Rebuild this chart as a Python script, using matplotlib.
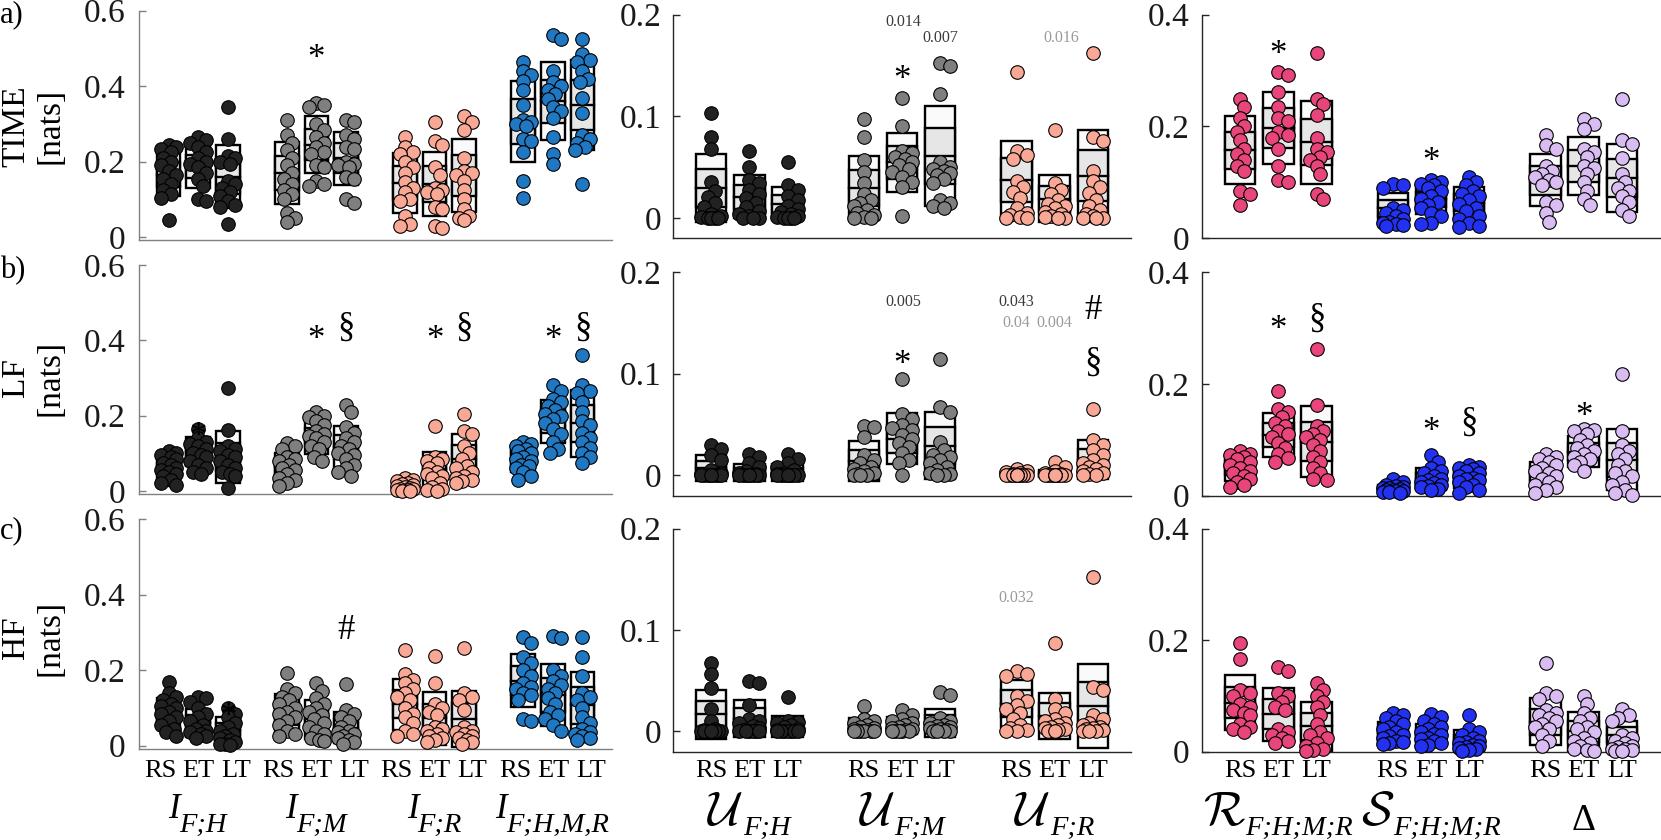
import numpy as np
import matplotlib
matplotlib.use("Agg")
import matplotlib.pyplot as plt
from matplotlib.patches import Rectangle

plt.rcParams['font.family'] = ['Liberation Serif', 'DejaVu Serif']

W, H = 1661, 840

conditions = ['RS', 'ET', 'LT']
row_names = ['TIME\n[nats]', 'LF\n[nats]', 'HF\n[nats]']
row_tags = ['a)', 'b)', 'c)']

left_main = ['I', 'I', 'I', 'I']
left_sub = ['F;H', 'F;M', 'F;R', 'F;H,M,R']
mid_main = [r'$\mathcal{U}$', r'$\mathcal{U}$', r'$\mathcal{U}$']
mid_sub = ['F;H', 'F;M', 'F;R']
right_main = [r'$\mathcal{R}$', r'$\mathcal{S}$', 'Δ']
right_sub = ['F;H;M;R', 'F;H;M;R', '']

left_colors = ['#222222', '#7f7f7f', '#f9a895', '#1f78c1']
mid_colors = ['#222222', '#7f7f7f', '#f9a895']
right_colors = ['#e8457a', '#2232f0', '#d9bdf2']

N_SUBJ = 15
T95 = 2.145

# ---------------- TIME ----------------
time_left_pts = [
    [[0.244, 0.24, 0.235, 0.225, 0.21, 0.2, 0.19, 0.175, 0.165, 0.155, 0.14, 0.125, 0.115, 0.105, 0.046],
     [0.265, 0.258, 0.25, 0.24, 0.225, 0.21, 0.2, 0.195, 0.185, 0.17, 0.155, 0.135, 0.1, 0.095],
     [0.345, 0.26, 0.215, 0.21, 0.2, 0.195, 0.15, 0.14, 0.13, 0.12, 0.11, 0.095, 0.085, 0.08, 0.035]],
    [[0.31, 0.27, 0.25, 0.23, 0.21, 0.19, 0.17, 0.155, 0.14, 0.125, 0.115, 0.1, 0.065, 0.05, 0.04],
     [0.355, 0.35, 0.345, 0.3, 0.285, 0.265, 0.25, 0.24, 0.225, 0.22, 0.19, 0.185, 0.15, 0.14, 0.135],
     [0.31, 0.305, 0.27, 0.26, 0.24, 0.235, 0.2, 0.195, 0.19, 0.185, 0.16, 0.155, 0.1, 0.09]],
    [[0.265, 0.24, 0.225, 0.22, 0.2, 0.185, 0.17, 0.145, 0.13, 0.12, 0.1, 0.095, 0.055, 0.035, 0.03],
     [0.305, 0.255, 0.245, 0.185, 0.165, 0.13, 0.125, 0.12, 0.115, 0.08, 0.075, 0.03, 0.025],
     [0.32, 0.305, 0.285, 0.21, 0.175, 0.17, 0.165, 0.15, 0.125, 0.1, 0.075, 0.055, 0.05, 0.045]],
    [[0.465, 0.44, 0.43, 0.415, 0.39, 0.35, 0.31, 0.305, 0.3, 0.295, 0.26, 0.255, 0.225, 0.15, 0.105],
     [0.535, 0.525, 0.44, 0.41, 0.4, 0.39, 0.38, 0.365, 0.345, 0.335, 0.315, 0.265, 0.22, 0.195],
     [0.525, 0.485, 0.47, 0.465, 0.44, 0.42, 0.41, 0.37, 0.33, 0.27, 0.26, 0.25, 0.24, 0.23, 0.14]],
]
time_mid_pts = [
    [[0.103, 0.08, 0.068, 0.035, 0.027, 0.021, 0.015, 0.011, 0.004, 0.002, 0.001, 0, 0, 0, 0],
     [0.066, 0.05, 0.037, 0.034, 0.028, 0.024, 0.02, 0.015, 0.011, 0.007, 0.004, 0.002, 0, 0, 0],
     [0.055, 0.032, 0.028, 0.022, 0.018, 0.012, 0.009, 0.006, 0.004, 0.002, 0.001, 0, 0, 0, 0]],
    [[0.097, 0.08, 0.057, 0.045, 0.034, 0.024, 0.018, 0.015, 0.012, 0.008, 0.005, 0.003, 0.001, 0, 0],
     [0.118, 0.09, 0.066, 0.064, 0.06, 0.058, 0.055, 0.052, 0.048, 0.045, 0.04, 0.035, 0.03, 0.002],
     [0.152, 0.15, 0.122, 0.055, 0.05, 0.048, 0.046, 0.044, 0.042, 0.038, 0.034, 0.018, 0.015, 0.012, 0.01]],
    [[0.144, 0.066, 0.062, 0.058, 0.036, 0.03, 0.026, 0.02, 0.01, 0.005, 0.003, 0.001, 0, 0],
     [0.087, 0.034, 0.028, 0.024, 0.018, 0.014, 0.012, 0.01, 0.006, 0.004, 0.002, 0.001, 0, 0],
     [0.162, 0.08, 0.076, 0.046, 0.036, 0.03, 0.025, 0.018, 0.012, 0.008, 0.004, 0.002, 0, 0, 0]],
]
time_right_pts = [
    [[0.25, 0.235, 0.215, 0.2, 0.19, 0.175, 0.16, 0.15, 0.14, 0.13, 0.12, 0.085, 0.08, 0.06],
     [0.298, 0.292, 0.262, 0.235, 0.215, 0.21, 0.19, 0.185, 0.18, 0.16, 0.13, 0.105, 0.1],
     [0.332, 0.25, 0.24, 0.22, 0.18, 0.16, 0.155, 0.145, 0.14, 0.13, 0.115, 0.08, 0.07]],
    [[0.098, 0.095, 0.09, 0.055, 0.05, 0.045, 0.04, 0.035, 0.03, 0.028, 0.025, 0.024, 0.022],
     [0.105, 0.1, 0.098, 0.095, 0.09, 0.085, 0.075, 0.07, 0.065, 0.06, 0.055, 0.045, 0.04, 0.028, 0.025],
     [0.11, 0.1, 0.095, 0.085, 0.08, 0.075, 0.068, 0.062, 0.055, 0.048, 0.04, 0.035, 0.028, 0.022, 0.02]],
    [[0.185, 0.167, 0.16, 0.13, 0.12, 0.115, 0.11, 0.105, 0.1, 0.095, 0.065, 0.06, 0.045, 0.03],
     [0.214, 0.205, 0.195, 0.16, 0.155, 0.145, 0.13, 0.125, 0.115, 0.1, 0.085, 0.07, 0.06],
     [0.25, 0.175, 0.168, 0.143, 0.115, 0.1, 0.09, 0.085, 0.075, 0.065, 0.05, 0.04]],
]
# SD boxes (low, high) per group and condition
time_left_box = [[(0.108, 0.224), (0.131, 0.244), (0.077, 0.244)],
                 [(0.087, 0.252), (0.17, 0.32), (0.139, 0.28)],
                 [(0.064, 0.224), (0.055, 0.227), (0.066, 0.26)],
                 [(0.198, 0.414), (0.258, 0.463), (0.231, 0.469)]]
time_mid_box = [[(-0.004, 0.063), (-0.0005, 0.042), (-0.002, 0.030)],
                [(-0.002, 0.061), (0.026, 0.0835), (0.012, 0.110)],
                [(-0.002, 0.076), (-0.004, 0.042), (-0.004, 0.087)]]
time_right_box = [[(0.097, 0.218), (0.133, 0.262), (0.097, 0.246)],
                  [(0.026, 0.081), (0.044, 0.095), (0.036, 0.091)],
                  [(0.057, 0.151), (0.078, 0.181), (0.047, 0.169)]]

# ---------------- LF ----------------
lf_left_pts = [
    [[0.105, 0.1, 0.095, 0.09, 0.085, 0.075, 0.07, 0.06, 0.055, 0.05, 0.045, 0.04, 0.03, 0.02, 0.015],
     [0.165, 0.14, 0.13, 0.125, 0.12, 0.11, 0.1, 0.095, 0.09, 0.08, 0.07, 0.06, 0.05, 0.045],
     [0.272, 0.163, 0.12, 0.11, 0.105, 0.095, 0.09, 0.08, 0.07, 0.06, 0.05, 0.045, 0.04, 0.008]],
    [[0.128, 0.12, 0.11, 0.09, 0.085, 0.08, 0.07, 0.06, 0.055, 0.045, 0.035, 0.03, 0.02, 0.012],
     [0.21, 0.2, 0.195, 0.185, 0.175, 0.16, 0.15, 0.145, 0.14, 0.13, 0.12, 0.11, 0.09, 0.08],
     [0.228, 0.21, 0.17, 0.155, 0.14, 0.13, 0.12, 0.11, 0.1, 0.095, 0.085, 0.07, 0.06, 0.05, 0.04]],
    [[0.035, 0.03, 0.025, 0.02, 0.018, 0.015, 0.012, 0.01, 0.008, 0.006, 0.005, 0.003, 0.002, 0.001, 0],
     [0.173, 0.09, 0.085, 0.08, 0.075, 0.06, 0.05, 0.045, 0.04, 0.035, 0.02, 0.01, 0.005, 0.002, 0],
     [0.205, 0.16, 0.15, 0.12, 0.1, 0.085, 0.065, 0.06, 0.05, 0.04, 0.035, 0.03, 0.025, 0.02]],
    [[0.13, 0.125, 0.12, 0.11, 0.105, 0.1, 0.09, 0.085, 0.08, 0.07, 0.065, 0.06, 0.05, 0.04, 0.03],
     [0.28, 0.265, 0.245, 0.235, 0.225, 0.215, 0.205, 0.2, 0.19, 0.18, 0.165, 0.15, 0.13, 0.11, 0.1],
     [0.36, 0.28, 0.265, 0.26, 0.235, 0.21, 0.185, 0.175, 0.155, 0.14, 0.13, 0.115, 0.1, 0.09, 0.075]],
]
lf_mid_pts = [
    [[0.03, 0.026, 0.02, 0.015, 0.005, 0.002, 0.001, 0, 0, 0, 0, 0, 0, 0, 0],
     [0.021, 0.018, 0.012, 0.008, 0.004, 0.002, 0.001, 0, 0, 0, 0, 0, 0, 0, 0],
     [0.021, 0.016, 0.012, 0.008, 0.005, 0.002, 0.001, 0, 0, 0, 0, 0, 0, 0, 0]],
    [[0.049, 0.048, 0.038, 0.02, 0.015, 0.012, 0.008, 0.006, 0.004, 0.002, 0.001, 0, 0, 0],
     [0.095, 0.06, 0.055, 0.05, 0.047, 0.045, 0.04, 0.036, 0.032, 0.028, 0.022, 0.015, 0.012, 0],
     [0.114, 0.067, 0.062, 0.033, 0.025, 0.02, 0.018, 0.015, 0.012, 0.008, 0.005, 0.002, 0.001, 0, 0]],
    [[0.006, 0.004, 0.003, 0.002, 0.001, 0, 0, 0, 0, 0, 0, 0, 0, 0, 0],
     [0.013, 0.008, 0.004, 0.002, 0.001, 0, 0, 0, 0, 0, 0, 0, 0, 0, 0],
     [0.065, 0.035, 0.03, 0.025, 0.02, 0.015, 0.012, 0.01, 0.008, 0.006, 0.004, 0.002, 0.001, 0, 0]],
]
lf_right_pts = [
    [[0.08, 0.075, 0.072, 0.07, 0.065, 0.06, 0.055, 0.05, 0.045, 0.04, 0.035, 0.03, 0.025, 0.02, 0.015],
     [0.188, 0.155, 0.15, 0.14, 0.13, 0.125, 0.115, 0.11, 0.105, 0.095, 0.085, 0.075, 0.068, 0.06],
     [0.262, 0.163, 0.125, 0.115, 0.11, 0.105, 0.1, 0.09, 0.08, 0.07, 0.06, 0.05, 0.04, 0.03, 0.028]],
    [[0.03, 0.025, 0.02, 0.018, 0.015, 0.014, 0.013, 0.012, 0.011, 0.01, 0.009, 0.008, 0.007, 0.006, 0.005],
     [0.072, 0.06, 0.05, 0.045, 0.04, 0.035, 0.03, 0.028, 0.025, 0.022, 0.02, 0.018, 0.015, 0.012, 0.01],
     [0.055, 0.052, 0.05, 0.048, 0.045, 0.04, 0.035, 0.032, 0.03, 0.028, 0.025, 0.02, 0.015, 0.01, 0.005]],
    [[0.075, 0.07, 0.065, 0.06, 0.055, 0.05, 0.045, 0.04, 0.035, 0.03, 0.025, 0.02, 0.015, 0.01, 0.005],
     [0.12, 0.118, 0.115, 0.11, 0.1, 0.09, 0.085, 0.08, 0.075, 0.07, 0.065, 0.06, 0.055, 0.045],
     [0.218, 0.115, 0.09, 0.08, 0.075, 0.065, 0.055, 0.045, 0.04, 0.035, 0.025, 0.02, 0.01, 0.005, 0.002]],
]
lf_left_box = [[(0.034, 0.084), (0.065, 0.144), (0.022, 0.158)],
               [(0.027, 0.102), (0.098, 0.186), (0.06, 0.173)],
               [(0.004, 0.022), (0.012, 0.104), (0.019, 0.15)],
               [(0.05, 0.122), (0.128, 0.242), (0.091, 0.268)]]
lf_mid_box = [[(-0.006, 0.020), (-0.006, 0.0115), (-0.006, 0.0115)],
              [(-0.006, 0.034), (0.011, 0.061), (-0.004, 0.062)],
              [(-0.001, 0.003), (-0.002, 0.005), (-0.004, 0.035)]]
lf_right_box = [[(0.027, 0.073), (0.070, 0.148), (0.033, 0.160)],
                [(0.010, 0.019), (0.011, 0.049), (0.014, 0.049)],
                [(0.017, 0.061), (0.051, 0.107), (0.010, 0.119)]]

# ---------------- HF ----------------
hf_left_pts = [
    [[0.168, 0.14, 0.13, 0.12, 0.11, 0.105, 0.1, 0.09, 0.085, 0.075, 0.065, 0.055, 0.045, 0.035, 0.025],
     [0.13, 0.125, 0.115, 0.1, 0.085, 0.075, 0.065, 0.055, 0.045, 0.04, 0.035, 0.03, 0.025, 0.02],
     [0.1, 0.085, 0.075, 0.06, 0.05, 0.04, 0.03, 0.025, 0.02, 0.015, 0.01, 0.005, 0.003, 0.001]],
    [[0.192, 0.15, 0.14, 0.13, 0.12, 0.11, 0.1, 0.09, 0.085, 0.075, 0.065, 0.055, 0.04, 0.03, 0.025],
     [0.165, 0.145, 0.125, 0.11, 0.1, 0.09, 0.08, 0.07, 0.06, 0.05, 0.04, 0.03, 0.02, 0.015, 0.012],
     [0.163, 0.095, 0.085, 0.075, 0.065, 0.05, 0.04, 0.035, 0.03, 0.025, 0.02, 0.015, 0.01, 0.005]],
    [[0.253, 0.19, 0.175, 0.165, 0.15, 0.14, 0.13, 0.12, 0.1, 0.085, 0.075, 0.06, 0.04, 0.03, 0.025],
     [0.238, 0.165, 0.11, 0.1, 0.09, 0.08, 0.05, 0.045, 0.04, 0.03, 0.025, 0.02, 0.015, 0.01],
     [0.258, 0.14, 0.13, 0.12, 0.095, 0.05, 0.04, 0.035, 0.03, 0.025, 0.02, 0.015, 0.01, 0.005]],
    [[0.288, 0.272, 0.235, 0.22, 0.2, 0.185, 0.165, 0.155, 0.15, 0.14, 0.135, 0.12, 0.07, 0.065],
     [0.29, 0.285, 0.2, 0.185, 0.17, 0.16, 0.15, 0.14, 0.125, 0.11, 0.09, 0.08, 0.07, 0.055, 0.04],
     [0.287, 0.236, 0.185, 0.14, 0.13, 0.12, 0.1, 0.075, 0.06, 0.045, 0.035, 0.03, 0.025, 0.02, 0.015]],
]
hf_mid_pts = [
    [[0.068, 0.057, 0.043, 0.022, 0.01, 0.002, 0.001, 0, 0, 0, 0, 0, 0, 0, 0],
     [0.05, 0.048, 0.026, 0.012, 0.01, 0.008, 0.005, 0.003, 0.001, 0, 0, 0, 0, 0, 0],
     [0.034, 0.01, 0.009, 0.008, 0.006, 0.004, 0.002, 0.001, 0, 0, 0, 0, 0, 0, 0]],
    [[0.025, 0.012, 0.01, 0.008, 0.006, 0.004, 0.003, 0.002, 0.001, 0, 0, 0, 0, 0, 0],
     [0.021, 0.016, 0.012, 0.01, 0.008, 0.006, 0.004, 0.003, 0.002, 0.001, 0, 0, 0, 0, 0],
     [0.039, 0.036, 0.013, 0.01, 0.008, 0.006, 0.005, 0.004, 0.003, 0.002, 0.001, 0, 0, 0, 0]],
    [[0.06, 0.057, 0.055, 0.035, 0.03, 0.026, 0.022, 0.018, 0.012, 0.006, 0.003, 0.001, 0, 0],
     [0.087, 0.032, 0.022, 0.018, 0.012, 0.01, 0.008, 0.006, 0.004, 0.003, 0.002, 0.001, 0, 0],
     [0.152, 0.044, 0.041, 0.016, 0.012, 0.008, 0.006, 0.004, 0.003, 0.002, 0.001, 0, 0, 0]],
]
hf_right_pts = [
    [[0.195, 0.167, 0.11, 0.105, 0.1, 0.085, 0.08, 0.075, 0.07, 0.065, 0.05, 0.045, 0.04, 0.035],
     [0.152, 0.145, 0.105, 0.1, 0.09, 0.08, 0.075, 0.04, 0.035, 0.03, 0.025, 0.02, 0.015],
     [0.123, 0.11, 0.1, 0.09, 0.08, 0.065, 0.05, 0.035, 0.03, 0.025, 0.015, 0.01, 0.005, 0.003, 0.002]],
    [[0.07, 0.065, 0.06, 0.055, 0.05, 0.045, 0.04, 0.035, 0.03, 0.028, 0.025, 0.02, 0.018, 0.016, 0.014],
     [0.068, 0.063, 0.055, 0.05, 0.045, 0.04, 0.035, 0.032, 0.03, 0.025, 0.022, 0.02, 0.015, 0.012, 0.01],
     [0.066, 0.04, 0.035, 0.03, 0.025, 0.02, 0.018, 0.015, 0.012, 0.01, 0.008, 0.006, 0.004, 0.003, 0.002]],
    [[0.16, 0.105, 0.1, 0.095, 0.075, 0.07, 0.065, 0.06, 0.055, 0.05, 0.045, 0.04, 0.03, 0.02, 0.01],
     [0.1, 0.085, 0.07, 0.06, 0.055, 0.045, 0.04, 0.035, 0.025, 0.02, 0.015, 0.01, 0.005, 0.003, 0.002],
     [0.077, 0.065, 0.06, 0.055, 0.03, 0.025, 0.02, 0.015, 0.01, 0.008, 0.005, 0.004, 0.003, 0.002, 0.001]],
]
hf_left_box = [[(0.048, 0.127), (0.022, 0.097), (0.0035, 0.077)],
               [(0.03, 0.136), (0.018, 0.121), (0.008, 0.088)],
               [(0.042, 0.176), (0.002, 0.143), (-0.003, 0.145)],
               [(0.103, 0.242), (0.052, 0.216), (0.019, 0.194)]]
hf_mid_box = [[(-0.0076, 0.041), (-0.0056, 0.031), (-0.0056, 0.0154)],
              [(-0.0023, 0.013), (-0.0023, 0.014), (-0.0056, 0.022)],
              [(0.004, 0.051), (-0.0076, 0.038), (-0.016, 0.067)]]
hf_right_box = [[(0.039, 0.1375), (0.020, 0.115), (0.002, 0.089)],
                [(0.012, 0.054), (0.010, 0.050), (0.002, 0.039)],
                [(0.012, 0.096), (0.002, 0.071), (0.006, 0.055)]]

# significance marks: (row, panel, x slot, y, symbol)
sig_marks = [
    (0, 0, 5, 0.50, '*'), (0, 1, 5, 0.146, '*'), (0, 2, 1, 0.346, '*'), (0, 2, 5, 0.155, '*'),
    (1, 0, 1, 0.171, '*'), (1, 0, 5, 0.427, '*'), (1, 0, 6, 0.44, '§'), (1, 0, 9, 0.427, '*'),
    (1, 0, 10, 0.44, '§'), (1, 0, 13, 0.427, '*'), (1, 0, 14, 0.44, '§'),
    (1, 1, 5, 0.118, '*'), (1, 1, 10, 0.165, '#'), (1, 1, 10, 0.113, '§'),
    (1, 2, 1, 0.314, '*'), (1, 2, 2, 0.32, '§'), (1, 2, 5, 0.132, '*'), (1, 2, 6, 0.135, '§'),
    (1, 2, 9, 0.159, '*'),
    (2, 0, 2, 0.103, '*'), (2, 0, 6, 0.315, '#'),
]
# p-values: (row, panel, x slot, y, text, dark?)
p_values = [
    (0, 1, 5.04, 0.194, '0.014', True), (0, 1, 6.0, 0.178, '0.007', True), (0, 1, 9.18, 0.178, '0.016', False),
    (1, 1, 5.04, 0.172, '0.005', True), (1, 1, 8.0, 0.172, '0.043', True),
    (1, 1, 8.0, 0.151, '0.04', False), (1, 1, 9.0, 0.151, '0.004', False),
    (2, 1, 8.0, 0.133, '0.032', False),
]

all_pts = [[time_left_pts, time_mid_pts, time_right_pts],
           [lf_left_pts, lf_mid_pts, lf_right_pts],
           [hf_left_pts, hf_mid_pts, hf_right_pts]]
all_box = [[time_left_box, time_mid_box, time_right_box],
           [lf_left_box, lf_mid_box, lf_right_box],
           [hf_left_box, hf_mid_box, hf_right_box]]
panel_colors = [left_colors, mid_colors, right_colors]
panel_main = [left_main, mid_main, right_main]
panel_sub = [left_sub, mid_sub, right_sub]

# layout in pixels
panel_x = [(139, 612), (673, 1131), (1202, 1660)]
row_y = [[(10.7, 239.5), (14.7, 238.3), (14.7, 238.3)],
         [(265, 494.3), (272, 495.7), (272, 495.7)],
         [(519.3, 749), (528.7, 751.7), (528.7, 751.7)]]
ylims = [[(-0.006, 0.6), (-0.02, 0.2), (0, 0.4)],
         [(-0.009, 0.6), (-0.02, 0.2), (0, 0.4)],
         [(-0.009, 0.6), (-0.02, 0.2), (0, 0.4)]]
yticks = [[0, 0.2, 0.4, 0.6], [0, 0.1, 0.2], [0, 0.2, 0.4]]
ytick_labels = [['0', '0.2', '0.4', '0.6'], ['0', '0.1', '0.2'], ['0', '0.2', '0.4']]
spine_colors = ['#808080', '#262626', '#262626']
tick_pad = [9.5, 8.5, 9]
ylabel_y = [126, 378, 638]
tag_y = [15, 271, 531]


def swarm_offsets(vals, px_per_x, px_per_y, half_px, diam=13.0):
    vals = np.asarray(vals, dtype=float)
    steps = np.array([0, 0.22, -0.22, 0.44, -0.44, 0.66, -0.66]) * half_px
    order = np.argsort(-vals, kind='stable')
    placed = []
    offs = np.zeros(len(vals))
    for i in order:
        y = vals[i] * px_per_y
        best, best_d = 0.0, -1.0
        for s in steps:
            d = min((np.hypot(s - px, y - py) for px, py in placed), default=np.inf)
            if d >= 0.65 * diam:
                best = s
                break
            if d > best_d:
                best, best_d = s, d
        placed.append((best, y))
        offs[i] = best / px_per_x
    return offs


fig = plt.figure(figsize=(W / 100, H / 100), dpi=100)
renderer = fig.canvas.get_renderer()


def compound_label(xc_px, main, sub, main_kw, sub_kw, main_base, sub_base):
    t1 = fig.text(0, 1 - main_base / H, main, ha='left', va='baseline', **main_kw)
    w1 = t1.get_window_extent(renderer).width
    w2 = 0
    t2 = None
    if sub:
        t2 = fig.text(0, 1 - sub_base / H, sub, ha='left', va='baseline', **sub_kw)
        w2 = t2.get_window_extent(renderer).width
    x_start = xc_px - (w1 + w2) / 2
    t1.set_x(x_start / W)
    if t2 is not None:
        t2.set_x((x_start + w1 - 1) / W)


for r in range(3):
    for p in range(3):
        x0, x1 = panel_x[p]
        top, bot = row_y[r][p]
        ax = fig.add_axes([x0 / W, 1 - bot / H, (x1 - x0) / W, (bot - top) / H])
        pts = all_pts[r][p]
        boxes = all_box[r][p]
        ng = len(pts)
        xlim = (-1, 4 * ng - 1)
        ax.set_xlim(*xlim)
        ax.set_ylim(*ylims[r][p])
        px_per_x = (x1 - x0) / (xlim[1] - xlim[0])
        px_per_y = (bot - top) / (ylims[r][p][1] - ylims[r][p][0])
        for g in range(ng):
            for c in range(3):
                x = 4 * g + c
                lo, hi = boxes[g][c]
                mean = (lo + hi) / 2
                sd = (hi - lo) / 2
                ci = T95 * sd / np.sqrt(N_SUBJ)
                ax.add_patch(Rectangle((x - 0.4, lo), 0.8, hi - lo, facecolor='#fafafa',
                                       edgecolor='black', lw=1.7, zorder=2))
                ax.add_patch(Rectangle((x - 0.4, mean - ci), 0.8, 2 * ci, facecolor='#e6e6e6',
                                       edgecolor='black', lw=1.7, zorder=2))
                ax.plot([x - 0.4, x + 0.4], [mean, mean], color='black', lw=1.7, zorder=3)
                vals = pts[g][c]
                offs = swarm_offsets(vals, px_per_x, px_per_y, 0.4 * px_per_x)
                ax.scatter(x + offs, vals, s=95, c=panel_colors[p][g], edgecolors='black',
                           linewidths=0.8, zorder=4, clip_on=False)

        for side in ['top', 'right']:
            ax.spines[side].set_visible(False)
        for side in ['left', 'bottom']:
            ax.spines[side].set_color(spine_colors[p])
            ax.spines[side].set_linewidth(1.0)
        ax.set_xticks([])
        ax.set_yticks(yticks[p])
        ax.set_yticklabels(ytick_labels[p])
        ax.tick_params(axis='y', direction='in', length=5, width=1, color=spine_colors[p],
                       labelsize=24, labelcolor='#1a1a1a', pad=tick_pad[p])
        ax.patch.set_alpha(0)

        for (rr, pp, xs, yv, sym) in sig_marks:
            if rr == r and pp == p:
                frac = {'*': 0.55, '§': 0.29, '#': 0.34}[sym]
                ax.annotate(sym, (xs, yv), xytext=(0, -frac * 25), textcoords='offset points',
                            ha='center', va='baseline', fontsize=25, color='black', zorder=6,
                            annotation_clip=False)
        for (rr, pp, xs, yv, txt, dark) in p_values:
            if rr == r and pp == p:
                ax.annotate(txt, (xs, yv), xytext=(0, -0.34 * 11.5), textcoords='offset points',
                            ha='center', va='baseline', fontsize=11.5,
                            color='#3a3a3a' if dark else '#9a9a9a', zorder=6)

        if r == 2:
            for g in range(ng):
                xc = ax.transData.transform((4 * g + 1, 0))[0]
                step = 38 if p == 0 else px_per_x
                for c in range(3):
                    fig.text((xc + (c - 1) * step) / W, 1 - 777 / H, conditions[c],
                             ha='center', va='baseline', fontsize=19, color='black')
                main = panel_main[p][g]
                sub = panel_sub[p][g]
                if p == 0:
                    compound_label(xc, main, sub, dict(fontsize=25, fontstyle='italic'),
                                   dict(fontsize=20.5, fontstyle='italic'), 818, 832)
                elif main == 'Δ':
                    compound_label(xc, main, sub, dict(fontsize=27), {}, 830, 830)
                else:
                    compound_label(xc, main, sub, dict(fontsize=35, math_fontfamily='cm'),
                                   dict(fontsize=20.5, fontstyle='italic'), 825, 835)

    fig.text(33 / W, 1 - ylabel_y[r] / H, row_names[r], rotation=90, ha='center', va='center',
             multialignment='center', linespacing=1.15, fontsize=24)
    fig.text(0, 1 - tag_y[r] / H, row_tags[r], ha='left', va='center', fontsize=22)

fig.savefig('out.png', dpi=100)
